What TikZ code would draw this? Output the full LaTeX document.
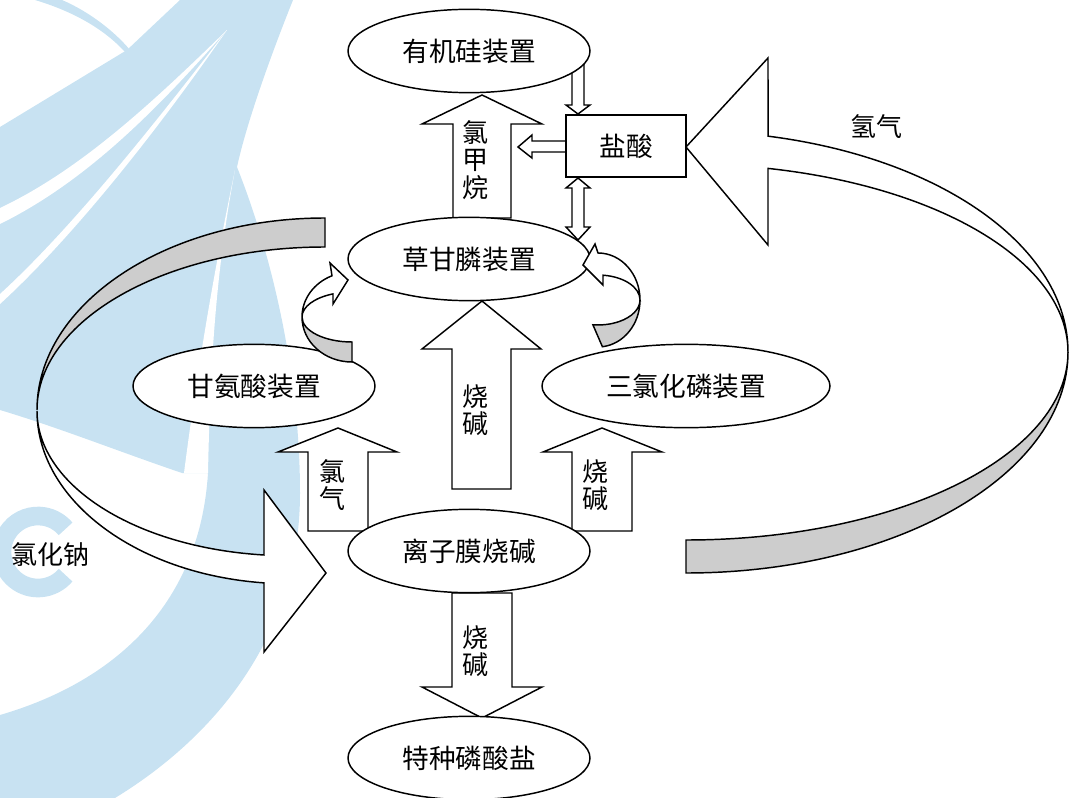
\documentclass[tikz,border=0pt]{standalone}
\usepackage{fontspec}
\newfontfamily\cjk{Noto Sans CJK SC}
\usetikzlibrary{shapes.geometric}
\definecolor{wm}{RGB}{200,226,242}
\definecolor{rib}{RGB}{205,205,205}
\begin{document}
\begin{tikzpicture}[x=0.75pt,y=-0.75pt,
  lbl/.style={font=\cjk\fontsize{19.5}{20.6}\selectfont, inner sep=0pt, align=center},
  oval/.style={ellipse, draw, line width=1.1pt, fill=white, inner sep=0pt,
    minimum width=181.5pt, minimum height=62.5pt, font=\cjk\fontsize{20}{22}\selectfont},
  blk/.style={draw, line width=1.1pt, fill=white},
  ribg/.style={draw, line width=1.1pt, fill=rib},
  ribw/.style={draw, line width=1.1pt, fill=white},
]
\useasboundingbox (0,0) rectangle (1070,798);
% ---------- watermark ----------
\fill[wm] (180,0) -- (293,0) .. controls (265,70) and (245,130) .. (237,167)
  .. controls (270,250) and (300,370) .. (300,493)
  .. controls (300,640) and (210,740) .. (115,798) -- (0,798) -- (0,715)
  .. controls (120,680) and (200,600) .. (208,473) -- (182,473)
  .. controls (120,452) and (60,428) .. (0,410) -- (0,127) -- (127,50) -- cycle;
\fill[white] (235,170) .. controls (214,280) and (210,380) .. (208,473) -- (184,473)
  .. controls (196,380) and (212,280) .. (235,170) -- cycle;
\fill[white] (227,30) .. controls (150,105) and (80,170) .. (0,208) -- (0,224)
  .. controls (85,182) and (155,112) .. (227,30) -- cycle;
\fill[white] (227,30) .. controls (150,130) and (70,230) .. (0,294) -- (0,304)
  .. controls (72,238) and (155,134) .. (227,30) -- cycle;
\fill[wm] (35,0) -- (62,0) .. controls (90,12) and (115,32) .. (130,50) -- (125,52)
  .. controls (105,30) and (75,12) .. (35,0) -- cycle;
\draw[wm, line width=14pt] (38,552) ++(40:36) arc[start angle=40, end angle=320, radius=36];
% ---------- big ribbon left (NaCl) ----------
\draw[ribg] (325,218) arc[start angle=270, end angle=180, x radius=288, y radius=192]
  arc[start angle=180, end angle=270, x radius=288, y radius=163] -- cycle;
\draw[ribw] (37,410.8) arc[start angle=180, end angle=95.9, x radius=253, y radius=173]
  -- (264,652) -- (326,573) -- (264,490) -- (264,555)
  arc[start angle=95.9, end angle=180, x radius=253, y radius=145] -- cycle;
% ---------- big ribbon right (H2) ----------
\draw[ribg] (686,573) arc[start angle=90, end angle=0, x radius=382, y radius=221]
  arc[start angle=0, end angle=90, x radius=382, y radius=188] -- cycle;
\draw[ribw] (1068,352) arc[start angle=0, end angle=-77.6, x radius=382, y radius=221]
  -- (768,58) -- (686,147) -- (768,245) -- (768,168.4)
  arc[start angle=-77.6, end angle=0, x radius=382, y radius=188] -- cycle;
% ---------- block arrows ----------
\draw[blk] (453,218) -- (453,124) -- (422,124) -- (482,95) -- (542,124) -- (511,124) -- (511,218) -- cycle;
\draw[blk] (452,489) -- (452,349) -- (422,349) -- (482,301) -- (541,349) -- (511,349) -- (511,489) -- cycle;
\draw[blk] (308,531) -- (308,452) -- (278,452) -- (338,428) -- (397,452) -- (368,452) -- (368,531) -- cycle;
\draw[blk] (572,531) -- (572,452) -- (543,452) -- (602,428) -- (662,452) -- (632,452) -- (632,531) -- cycle;
\draw[blk] (452,593) -- (452,687) -- (422,687) -- (482,718) -- (542,687) -- (512,687) -- (512,593) -- cycle;
% small arrows around HCl
\draw[blk] (572,60) -- (572,105) -- (566,105) -- (578,114) -- (590,105) -- (584,105) -- (584,60) -- cycle;
\draw[blk] (566,141) -- (532,141) -- (532,135) -- (518,147) -- (532,158) -- (532,152) -- (566,152) -- cycle;
\draw[blk] (578,178) -- (590,188) -- (584,188) -- (584,227) -- (590,227) -- (578,240) -- (566,227) -- (572,227) -- (572,188) -- (566,188) -- cycle;
% ---------- nodes ----------
\node[oval] (yjg) at (469,51) {有机硅装置};
\node[oval] (cgl) at (469,259) {草甘膦装置};
\node[oval] (gas) at (254,386) {甘氨酸装置};
\node[oval, minimum width=216pt] (slh) at (686,386) {三氯化磷装置};
\node[oval] (lzm) at (469,551) {离子膜烧碱};
\node[oval] (tzl) at (469,758) {特种磷酸盐};
\node[draw, line width=1.1pt, fill=white, minimum width=90pt, minimum height=46.5pt,
  font=\cjk\fontsize{20}{22}\selectfont] (ys) at (626,146) {盐酸};
% ---------- small curved arrows ----------
\draw[ribg] (352,362) arc[start angle=90, end angle=180, x radius=50, y radius=45]
  arc[start angle=180, end angle=90, x radius=50, y radius=25] -- cycle;
\draw[ribw] (302,317) arc[start angle=180, end angle=246.4, x radius=50, y radius=45]
  -- (330,263) -- (348,280) -- (333,304) -- (333,293.9)
  arc[start angle=247.67, end angle=180, x radius=50, y radius=25] -- cycle;
\draw[ribg] (602.4,346.7) arc[start angle=84, end angle=0, x radius=42, y radius=47]
  arc[start angle=0, end angle=97, x radius=42, y radius=25] -- cycle;
\draw[ribw] (640,300) arc[start angle=0, end angle=-90, x radius=42, y radius=47]
  -- (595,244) -- (583,265) -- (603,285) -- (603,275.2)
  arc[start angle=-83.2, end angle=0, x radius=42, y radius=25] -- cycle;
% ---------- labels ----------
\node[lbl] (t1) at (475,160) {氯\\甲\\烷};
\node[lbl] (t2) at (475,410) {烧\\碱};
\node[lbl] (t3) at (332,485) {氯\\气};
\node[lbl] (t4) at (595,485) {烧\\碱};
\node[lbl] (t5) at (475,651) {烧\\碱};
\node[lbl] (t6) at (51,555) {氯化钠};
\node[lbl] (t7) at (876,127) {氢气};
\end{tikzpicture}
\end{document}
